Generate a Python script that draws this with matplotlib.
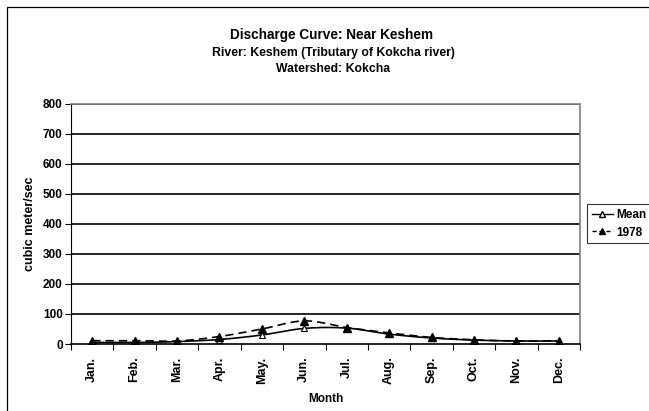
import numpy as np
import matplotlib
matplotlib.use("Agg")
import matplotlib.pyplot as plt
from matplotlib.patches import Rectangle
from matplotlib.lines import Line2D

months = ["Jan.", "Feb.", "Mar.", "Apr.", "May.", "Jun.", "Jul.", "Aug.", "Sep.", "Oct.", "Nov.", "Dec."]
mean_vals = [5, 5, 8, 15, 30, 52, 53, 33, 20, 13, 10, 10]
y1978_vals = [11, 11, 10, 25, 50, 77, 55, 37, 22, 14, 10, 10]
yticks = [0, 100, 200, 300, 400, 500, 600, 700, 800]

font = "Liberation Sans"

def smooth(x, y, n=20):
    x = np.asarray(x, float); y = np.asarray(y, float)
    px = np.concatenate([[2*x[0]-x[1]], x, [2*x[-1]-x[-2]]])
    py = np.concatenate([[2*y[0]-y[1]], y, [2*y[-1]-y[-2]]])
    xs, ys = [], []
    t = np.linspace(0, 1, n, endpoint=False)
    for i in range(1, len(px)-2):
        f = lambda a0, a1, a2, a3: 0.5*((2*a1) + (-a0+a2)*t + (2*a0-5*a1+4*a2-a3)*t**2 + (-a0+3*a1-3*a2+a3)*t**3)
        xs.append(f(px[i-1], px[i], px[i+1], px[i+2])); ys.append(f(py[i-1], py[i], py[i+1], py[i+2]))
    xs.append([x[-1]]); ys.append([y[-1]])
    return np.concatenate(xs), np.concatenate(ys)

fig = plt.figure(figsize=(6.49, 4.11), dpi=100)
fig.patches.append(Rectangle((7/649, -0.1), 1.2, 1.1 - 7/411, transform=fig.transFigure,
                             fill=False, edgecolor="black", linewidth=0.9))

ax = fig.add_axes([71/649, 1-344/411, (580-71)/649, (344-104)/411])
x = np.arange(len(months))
sx, sy = smooth(x, mean_vals)
ax.plot(sx, sy, color="black", lw=1.2, ls="-")
ax.plot(x, mean_vals, ls="none", marker="^", ms=4.5, mfc="white", mec="black", mew=0.8)
sx2, sy2 = smooth(x, y1978_vals)
ax.plot(sx2, sy2, color="black", lw=1.2, ls=(0, (5, 3)))
ax.plot(x, y1978_vals, ls="none", marker="^", ms=5.5, mfc="black", mec="black")

ax.set_xlim(-0.5, len(months)-0.5)
ax.set_ylim(0, 800)
ax.set_yticks(yticks)
ax.set_yticklabels([str(v) for v in yticks], fontfamily=font, fontweight="bold", fontsize=8.5)
for v in yticks[1:]:
    ax.axhline(v, color="black", lw=1.2, zorder=0)
ax.set_xticks(x)
ax.set_xticklabels(months, rotation=90, fontfamily=font, fontweight="bold", fontsize=9)
ax.set_xticks(np.arange(-0.5, len(months)), minor=True)
ax.tick_params(axis="x", which="major", length=0, pad=9)
ax.tick_params(axis="x", which="minor", length=4, direction="out", width=0.8)
ax.tick_params(axis="y", length=4, direction="out", width=0.8, pad=2)
for s in ["top", "right"]:
    ax.spines[s].set_color("#808080")
    ax.spines[s].set_linewidth(1.2)
ax.spines["left"].set_color("black")
ax.spines["bottom"].set_color("black")
ax.spines["bottom"].set_linewidth(1.2)

ax.set_ylabel("cubic meter/sec", fontfamily=font, fontweight="bold", fontsize=9, labelpad=5)
ax.set_xlabel("Month", fontfamily=font, fontweight="bold", fontsize=8.5, labelpad=6)

fig.text(332/649, 1-35/411, "Discharge Curve: Near Keshem", ha="center", va="center",
         fontfamily=font, fontweight="bold", fontsize=9.8)
fig.text(333/649, 1-53/411, "River: Keshem (Tributary of Kokcha river)", ha="center", va="center",
         fontfamily=font, fontweight="bold", fontsize=8.8)
fig.text(333/649, 1-69/411, "Watershed: Kokcha", ha="center", va="center",
         fontfamily=font, fontweight="bold", fontsize=8.8)

h1 = Line2D([], [], color="black", lw=1.0, marker="^", ms=4, mfc="white", mec="black")
h2 = Line2D([], [], color="black", lw=1.0, ls=(0, (3, 2)), marker="^", ms=4.5, mfc="black")
leg = fig.legend([h1, h2], ["Mean", "1978"], loc="upper left", bbox_to_anchor=(587/649, 1-204/411),
                 frameon=True, fancybox=False, edgecolor="black", handlelength=1.8, handletextpad=0.3,
                 borderpad=0.4, labelspacing=0.5, borderaxespad=0,
                 prop={"family": font, "weight": "bold", "size": 8.5})
leg.get_frame().set_linewidth(0.8)

fig.savefig("out.png", dpi=100)
